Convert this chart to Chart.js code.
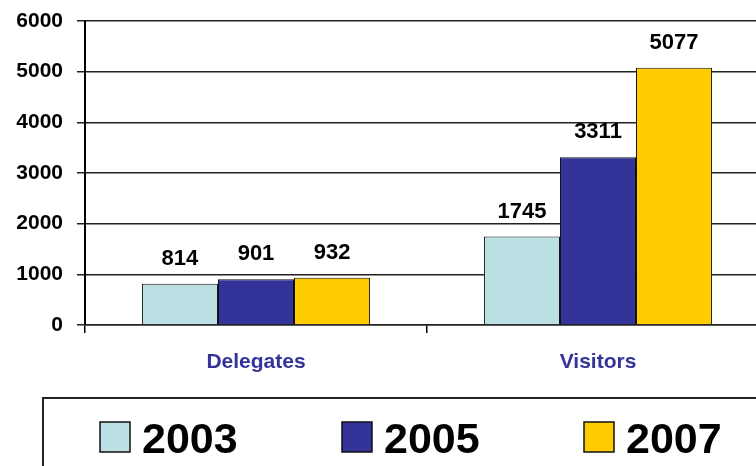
<!DOCTYPE html>
<html>
<head>
<meta charset="utf-8">
<script src="https://cdn.jsdelivr.net/npm/chart.js@4/dist/chart.umd.min.js"></script>
<style>
  html, body { margin: 0; padding: 0; background: #fff; overflow: hidden; }
  #wrap { width: 790px; height: 480px; }
</style>
</head>
<body>
<div id="wrap"><canvas id="chart" width="790" height="480"></canvas></div>
<script>
const categories = ['Delegates', 'Visitors'];
const years = ['2003', '2005', '2007'];
const values2003 = [814, 1745];
const values2005 = [901, 3311];
const values2007 = [932, 5077];
const yearColors = ['#BBE0E3', '#333399', '#FFCC00'];

const FONT = "'Liberation Sans', Arial, sans-serif";

/* ---------- value labels above bars ---------- */
const barLabels = {
  id: 'barLabels',
  afterDatasetsDraw(chart) {
    const ctx = chart.ctx;
    ctx.save();
    ctx.font = `bold 22px ${FONT}`;
    ctx.fillStyle = '#000';
    ctx.textAlign = 'center';
    ctx.textBaseline = 'alphabetic';
    chart.data.datasets.forEach((ds, i) => {
      chart.getDatasetMeta(i).data.forEach((bar, j) => {
        ctx.fillText(String(ds.data[j]), bar.x, bar.y - 19);
      });
    });
    ctx.restore();
  }
};

/* ---------- framed legend at the bottom ---------- */
const boxLegend = {
  id: 'boxLegend',
  afterDraw(chart) {
    const ctx = chart.ctx;
    ctx.save();
    ctx.strokeStyle = '#222';
    ctx.lineWidth = 2;
    ctx.strokeRect(43, 398, 800, 120);
    ctx.font = `bold 43px ${FONT}`;
    ctx.textAlign = 'left';
    ctx.textBaseline = 'alphabetic';
    chart.data.datasets.forEach((ds, i) => {
      const x = 100 + i * 242;
      ctx.fillStyle = ds.backgroundColor;
      ctx.fillRect(x, 422, 30, 30);
      ctx.strokeStyle = '#111';
      ctx.lineWidth = 1.5;
      ctx.strokeRect(x, 422, 30, 30);
      ctx.fillStyle = '#000';
      ctx.fillText(ds.label, x + 42, 453);
    });
    ctx.restore();
  }
};

const series = [values2003, values2005, values2007];

new Chart(document.getElementById('chart'), {
  type: 'bar',
  data: {
    labels: categories,
    datasets: years.map((y, i) => ({
      label: y,
      data: series[i],
      backgroundColor: yearColors[i],
      borderColor: '#111',
      borderWidth: 1,
      categoryPercentage: 0.667,
      barPercentage: 1.0
    }))
  },
  options: {
    responsive: false,
    animation: false,
    layout: { padding: { left: 0, right: 21, top: 21, bottom: 105 } },
    plugins: {
      legend: { display: false },
      tooltip: { enabled: false }
    },
    scales: {
      y: {
        min: 0,
        max: 6000,
        ticks: {
          stepSize: 1000,
          color: '#000',
          padding: 14,
          font: { family: FONT, size: 21, weight: 'bold' },
          callback: v => String(v)
        },
        grid: { color: '#222', lineWidth: 1.5, tickLength: 8 },
        border: { color: '#000', width: 2 },
        afterFit(scale) {
          scale.width = 85;
          scale.paddingTop = 0;
          scale.paddingBottom = 0;
        }
      },
      x: {
        ticks: {
          color: '#333399',
          padding: 17,
          font: { family: FONT, size: 21, weight: 'bold' }
        },
        grid: { drawOnChartArea: false, color: '#000', lineWidth: 1.5, tickLength: 8 },
        border: { color: '#222', width: 1.5 },
        afterFit(scale) { scale.height = 50; }
      }
    }
  },
  plugins: [barLabels, boxLegend]
});
</script>
</body>
</html>
